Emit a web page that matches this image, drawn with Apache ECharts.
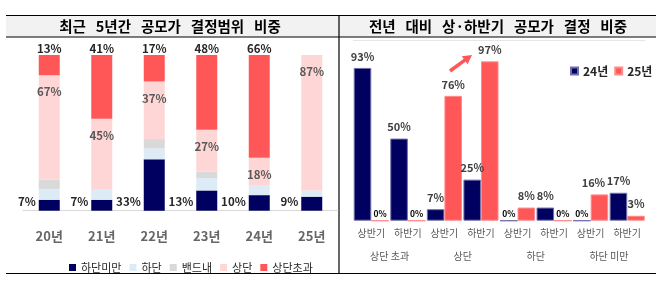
<!DOCTYPE html>
<html><head><meta charset="utf-8">
<script src="https://cdn.jsdelivr.net/npm/echarts@6/dist/echarts.min.js"></script>
<style>html,body{margin:0;padding:0;background:#fff}#c{width:666px;height:287px}</style>
</head><body><div id="c"></div>
<script>
// Left chart: share of IPO price decisions by range (last 5 years)
const years = ['20년','21년','22년','23년','24년','25년'];
const belowLow = [7, 7, 33, 13, 10, 9];     // 하단미만
const low = [7, 7, 7, 8, 6, 4];             // 하단
const inBand = [6, 0, 6, 4, 0, 0];          // 밴드내
const upper = [67, 45, 37, 27, 18, 87];     // 상단
const aboveUpper = [13, 41, 17, 48, 66, 0]; // 상단초과
const leftNames = ['하단미만','하단','밴드내','상단','상단초과'];

// Right chart: first/second half comparison
const halves = ['상반기','하반기','상반기','하반기','상반기','하반기','상반기','하반기'];
const groups = ['상단 초과','상단','하단','하단 미만'];
const y24 = [93, 50, 7, 25, 0, 8, 0, 17];
const y25 = [0, 0, 76, 97, 8, 0, 16, 3];
const rightNames = ['24년','25년'];

const leftTitle = '최근   5년간   공모가   결정범위   비중';
const rightTitle = '전년   대비   상·하반기   공모가   결정   비중';

const FONT = '"Noto Sans CJK KR", "Noto Sans", sans-serif';
const NAVY = '#000060', RED = '#FF5757', LBLUE = '#DDEBF7', GRAY = '#D9D9D9', PINK = '#FFD6D6';

const chart = echarts.init(document.getElementById('c'), null, {renderer: 'canvas'});

const pctFmt = p => (p.value ? p.value + '%' : '');
const leftLabelBase = {fontFamily: FONT, fontSize: 11.5, fontWeight: 'bold'};

function leftSeries(name, data, color, label) {
  return {
    name, type: 'bar', stack: 'L', xAxisIndex: 0, yAxisIndex: 0,
    barWidth: 21, data,
    itemStyle: {color},
    label: label || {show: false},
    emphasis: {disabled: true}
  };
}

// label nudge to keep adjacent labels apart (as in the reference)
const labelNudge = {'25년': {6: [-6, 0]}};

function rightData(name, arr) {
  return arr.map((v, i) => {
    if (v === 0) return {value: 0, label: {fontSize: 8.5, distance: 2, color: '#000'}};
    const n = labelNudge[name] && labelNudge[name][i];
    return n ? {value: v, label: {offset: n}} : v;
  });
}

function rightSeries(name, data, color, border) {
  return {
    name, type: 'bar', xAxisIndex: 1, yAxisIndex: 1,
    barGap: '0%', barCategoryGap: '4%',
    data: rightData(name, data),
    itemStyle: {color, borderColor: border, borderWidth: 1},
    label: {show: true, position: 'top', distance: 6, formatter: p => p.value + '%',
            fontFamily: FONT, fontSize: 11, fontWeight: 'bold', color: '#404040'},
    emphasis: {disabled: true}
  };
}

// arrow annotation
const ax0 = 450, ay0 = 71, ax1 = 472, ay1 = 55;
const dx = ax1 - ax0, dy = ay1 - ay0, L = Math.hypot(dx, dy), ux = dx / L, uy = dy / L;
const bx = ax1 - 9 * ux, by = ay1 - 9 * uy, nx = -uy, ny = ux;

const option = {
  animation: false,
  textStyle: {fontFamily: FONT},
  graphic: [
    {type: 'rect', silent: true, z: -10, shape: {x: 6, y: 15, width: 650, height: 22}, style: {fill: '#F2F2F2'}},
    {type: 'line', silent: true, shape: {x1: 6, y1: 15.5, x2: 656, y2: 15.5}, style: {stroke: '#000', lineWidth: 1.2}},
    {type: 'line', silent: true, shape: {x1: 6, y1: 37, x2: 656, y2: 37}, style: {stroke: '#000', lineWidth: 1}},
    {type: 'line', silent: true, shape: {x1: 339, y1: 15, x2: 339, y2: 274}, style: {stroke: '#000', lineWidth: 1.2}},
    {type: 'line', silent: true, shape: {x1: 6, y1: 273.5, x2: 656, y2: 273.5}, style: {stroke: '#000', lineWidth: 1}},
    {type: 'text', silent: true, style: {text: leftTitle, x: 170, y: 26.5, align: 'center', verticalAlign: 'middle', font: 'bold 14.5px ' + FONT, fill: '#000'}},
    {type: 'text', silent: true, style: {text: rightTitle, x: 498, y: 26.5, align: 'center', verticalAlign: 'middle', font: 'bold 14.5px ' + FONT, fill: '#000'}},
    {type: 'line', silent: true, shape: {x1: ax0, y1: ay0, x2: bx + 1 * ux, y2: by + 1 * uy}, style: {stroke: RED, lineWidth: 3.5}},
    {type: 'polygon', silent: true, shape: {points: [[ax1, ay1], [bx + 5 * nx, by + 5 * ny], [bx - 5 * nx, by - 5 * ny]]}, style: {fill: RED}}
  ],
  legend: [
    {data: leftNames, left: 64, top: 257, itemWidth: 7, itemHeight: 7, itemGap: 8, icon: 'rect',
     textStyle: {fontFamily: FONT, fontSize: 11, color: '#262626'}, selectedMode: false},
    {data: rightNames, left: 565, top: 60, itemWidth: 7, itemHeight: 7, itemGap: 6, icon: 'rect',
     textStyle: {fontFamily: FONT, fontSize: 12, fontWeight: 'bold', color: '#262626'}, selectedMode: false}
  ],
  grid: [
    {left: 23, right: 328, top: 55, bottom: 76.3},
    {left: 353, right: 20.5, top: 40, bottom: 66.3}
  ],
  xAxis: [
    {type: 'category', gridIndex: 0, data: years,
     axisLine: {lineStyle: {color: '#D9D9D9'}}, axisTick: {show: false},
     axisLabel: {fontFamily: FONT, fontSize: 13, fontWeight: 'bold', color: '#666666', margin: 19}},
    {type: 'category', gridIndex: 1, data: halves,
     axisLine: {show: false}, axisTick: {show: false},
     axisLabel: {fontFamily: FONT, fontSize: 10, color: '#595959', margin: 8, interval: 0}},
    {type: 'category', gridIndex: 1, data: groups, position: 'bottom', offset: 23,
     axisLine: {show: false}, axisTick: {show: false},
     axisLabel: {fontFamily: FONT, fontSize: 10, color: '#595959', margin: 8, interval: 0}}
  ],
  yAxis: [
    {type: 'value', gridIndex: 0, min: 0, max: 100, show: false},
    {type: 'value', gridIndex: 1, min: 0, max: 110, interval: 110,
     axisLine: {show: false}, axisTick: {show: false}, axisLabel: {show: false},
     splitLine: {show: true, showMinLine: false, lineStyle: {color: '#E6E6E6'}}}
  ],
  series: [
    leftSeries('하단미만', belowLow, NAVY, Object.assign({show: true, position: [-3, '100%'], align: 'right', verticalAlign: 'bottom', offset: [0, -3], color: '#262626', formatter: pctFmt}, leftLabelBase)),
    leftSeries('하단', low, LBLUE),
    leftSeries('밴드내', inBand, GRAY),
    leftSeries('상단', upper, PINK, Object.assign({show: true, position: 'insideTop', distance: 11, color: '#595959', formatter: pctFmt}, leftLabelBase)),
    leftSeries('상단초과', aboveUpper, RED, Object.assign({show: true, position: 'top', distance: 1, color: '#262626', formatter: pctFmt}, leftLabelBase)),
    rightSeries('24년', y24, NAVY, '#7070A8'),
    rightSeries('25년', y25, RED, '#FF8C8C')
  ]
};
chart.setOption(option);
</script>
</body></html>
